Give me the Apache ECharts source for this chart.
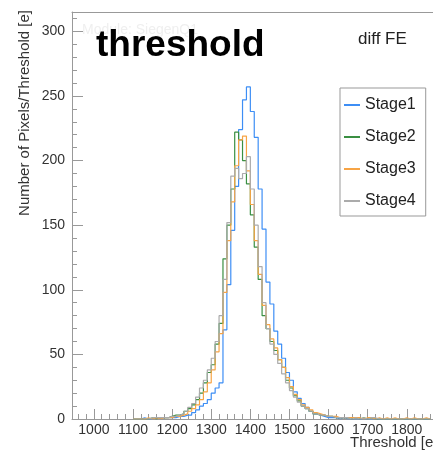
<!DOCTYPE html>
<html>
<head>
<meta charset="utf-8">
<script src="https://cdn.jsdelivr.net/npm/echarts@6/dist/echarts.min.js"></script>
<style>
html,body{margin:0;padding:0;background:#fff;}
#chart{width:433px;height:455px;}
</style>
</head>
<body>
<div id="chart"></div>
<script>
// Bin lower edges (e), bin width 10; last entry closes the final bin
const binEdges = [1100,1110,1120,1130,1140,1150,1160,1170,1180,1190,
  1200,1210,1220,1230,1240,1250,1260,1270,1280,1290,
  1300,1310,1320,1330,1340,1350,1360,1370,1380,1390,
  1400,1410,1420,1430,1440,1450,1460,1470,1480,1490,
  1500,1510,1520,1530,1540,1550,1560,1570,1580,1590,
  1600,1610,1620,1630,1640,1650,1660,1670,1680,1690,
  1700,1710,1720,1730,1740,1750,1760,1770,1780,1790,
  1800,1810,1820,1830,1840,1850,1860];

const stage1 = [0,0,1,0,0,1,0,1,1,1,
  1,2,2,3,3,5,7,10,12,15,
  20,24,28,69,104,146,180,224,247,257,
  238,218,178,147,106,89,68,58,47,36,
  30,21,16,12,9,6,4,3,2,1,
  1,1,0,1,0,0,0,0,0,0,
  0,0,0,0,0,0,0,0,0,0,
  0,0,0,0,0,0];

const stage2 = [0,0,0,0,1,0,1,1,1,2,
  3,3,4,6,8,11,15,20,28,36,
  42,58,74,124,150,178,222,216,200,182,
  158,133,108,80,70,60,53,46,40,30,
  24,18,14,10,8,6,4,3,3,2,
  2,1,1,1,1,0,1,0,1,0,
  1,0,0,0,0,0,0,0,0,0,
  0,0,0,0,0,0];

const stage3 = [0,0,0,1,0,1,0,1,1,1,
  2,2,3,4,6,8,11,15,21,28,
  38,52,66,98,138,168,196,216,219,192,
  166,138,112,88,73,62,55,46,40,32,
  25,19,15,11,9,7,5,4,3,2,
  2,2,1,1,1,1,1,1,0,1,
  1,0,1,0,1,0,1,0,0,1,
  0,1,0,0,1,0];

const stage4 = [0,0,0,0,1,1,1,1,1,2,
  2,3,4,6,9,12,17,24,30,38,
  47,60,80,108,152,188,194,186,190,203,
  178,150,118,90,70,58,50,43,35,28,
  22,17,13,10,8,6,4,3,3,2,
  2,1,1,1,1,0,1,0,1,0,
  1,1,0,0,0,0,0,0,0,0,
  0,0,0,0,0,0];

const seriesNames = ['Stage1','Stage2','Stage3','Stage4'];
const xTickLabels = [1000,1100,1200,1300,1400,1500,1600,1700,1800];
const yTickLabels = [0,50,100,150,200,250,300];

const colors = ['#3d8ef5','#3a8f42','#f7a445','#ababab'];
const FONT = 'Liberation Sans, Arial, Helvetica, sans-serif';
const X_MIN = 944, X_MAX = 1867, Y_MAX = 315;

const xMinor = [];
for (let v = 960; v <= 1860; v += 20) xMinor.push(v);
const yMinor = [];
for (let v = 0; v <= 310; v += 10) yMinor.push(v);

function toSteps(counts) {
  return binEdges.map((e, i) => [e, counts[Math.min(i, counts.length - 1)]]);
}

const allCounts = [stage1, stage2, stage3, stage4];

const chart = echarts.init(document.getElementById('chart'), null, {renderer: 'canvas'});

const axisLineStyle = {color: '#999', width: 1};
const plain = v => String(v);

chart.setOption({
  animation: false,
  backgroundColor: '#fff',
  grid: {left: 72, top: 12, right: 0, bottom: 36, containLabel: false},
  xAxis: [
    {
      type: 'value', min: X_MIN, max: X_MAX, position: 'bottom',
      axisLine: {show: true, lineStyle: axisLineStyle},
      axisTick: {show: true, inside: true, length: 10, lineStyle: axisLineStyle, customValues: xTickLabels},
      axisLabel: {show: true, customValues: xTickLabels, formatter: plain, fontSize: 14, color: '#333', fontFamily: FONT, margin: 4},
      splitLine: {show: false}
    },
    {
      type: 'value', min: X_MIN, max: X_MAX, position: 'bottom',
      axisLine: {show: false},
      axisTick: {show: true, inside: true, length: 5, lineStyle: axisLineStyle, customValues: xMinor},
      axisLabel: {show: false},
      splitLine: {show: false}
    },
    {
      type: 'value', min: X_MIN, max: X_MAX, position: 'top',
      axisLine: {show: true, lineStyle: axisLineStyle},
      axisTick: {show: false},
      axisLabel: {show: false},
      splitLine: {show: false}
    }
  ],
  yAxis: [
    {
      type: 'value', min: 0, max: Y_MAX, position: 'left',
      axisLine: {show: true, lineStyle: axisLineStyle},
      axisTick: {show: true, inside: true, length: 11, lineStyle: axisLineStyle, customValues: yTickLabels},
      axisLabel: {show: true, customValues: yTickLabels, formatter: plain, fontSize: 14, color: '#333', fontFamily: FONT, margin: 7},
      splitLine: {show: false}
    },
    {
      type: 'value', min: 0, max: Y_MAX, position: 'left',
      axisLine: {show: false},
      axisTick: {show: true, inside: true, length: 5, lineStyle: axisLineStyle, customValues: yMinor},
      axisLabel: {show: false},
      splitLine: {show: false}
    }
  ],
  legend: {
    show: true,
    orient: 'vertical',
    left: 340, top: 88,
    padding: [8, 10, 6, 4],
    itemGap: 14,
    itemWidth: 16,
    itemHeight: 2,
    icon: 'rect',
    borderColor: '#999',
    borderWidth: 1,
    backgroundColor: '#fff',
    textStyle: {fontSize: 16, color: '#222', fontFamily: FONT, lineHeight: 18},
    data: seriesNames
  },
  series: seriesNames.map((name, k) => ({
    name: name,
    type: 'line',
    step: 'end',
    xAxisIndex: 0,
    yAxisIndex: 0,
    symbol: 'none',
    showSymbol: false,
    color: colors[k],
    lineStyle: {color: colors[k], width: 1.2},
    data: toSteps(allCounts[k]),
    z: 2 + k
  })),
  graphic: [
    {
      type: 'text', left: 82, top: 23, z: 1, silent: true,
      style: {text: 'Module: SiegenQ1', font: '14px ' + FONT, fill: '#efefef'}
    },
    {
      type: 'text', x: 96, y: 46, z: 10, silent: true,
      style: {text: 'threshold', font: 'bold 37px ' + FONT, fill: '#000', textAlign: 'left', textVerticalAlign: 'middle'}
    },
    {
      type: 'text', x: 358, y: 39, z: 10, silent: true,
      style: {text: 'diff FE', font: '17px ' + FONT, fill: '#222', textAlign: 'left', textVerticalAlign: 'middle'}
    },
    {
      type: 'text', x: 25, y: 10, rotation: Math.PI / 2, z: 10, silent: true,
      style: {text: 'Number of Pixels/Threshold [e]', font: '15px ' + FONT, fill: '#333', textAlign: 'right', textVerticalAlign: 'middle'}
    },
    {
      type: 'text', x: 350, y: 443, z: 10, silent: true,
      style: {text: 'Threshold [e]', font: '15px ' + FONT, fill: '#333', textAlign: 'left', textVerticalAlign: 'middle'}
    }
  ]
});
</script>
</body>
</html>
